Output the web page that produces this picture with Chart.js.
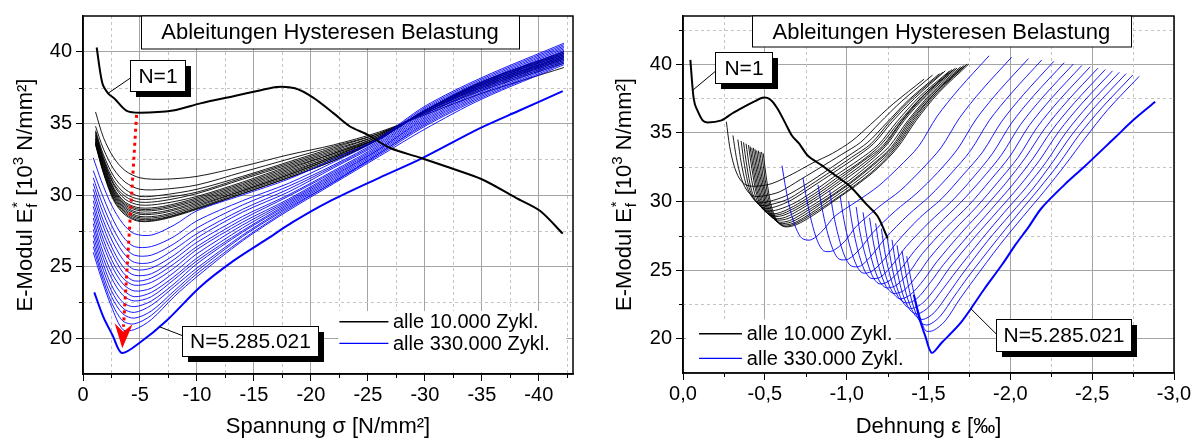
<!DOCTYPE html>
<html>
<head>
<meta charset="utf-8">
<script src="https://cdn.jsdelivr.net/npm/chart.js@4.4.1/dist/chart.umd.min.js"></script>
<style>
  body { margin: 0; background: #fff; }
  .panel { position: absolute; top: 0; }
</style>
</head>
<body>
<div class="panel" style="left:0"><canvas id="links" width="601" height="439"></canvas></div>
<div class="panel" style="left:601px"><canvas id="rechts" width="602" height="439"></canvas></div>
<script>
// Stuetzstellen (Spannung) der Zyklen
const sigmaBlack = [-1.1, -1.8, -2.7, -3.7, -5, -7, -10, -14, -18, -22, -26, -30, -35, -42.2];
const sigmaBlue = [-0.9, -1.6, -2.5, -3.5, -4.5, -6, -8, -10, -14, -18, -22, -26, -30, -35, -42.2];

// E-Modul, alle 10.000 Zyklen (schwarz)
const blackE = [
  [35.8, 34.0, 32.6, 31.7, 31.2, 31.1, 31.3, 32.0, 32.8, 33.5, 34.4, 35.6, 37.1, 38.9],
  [34.8, 33.2, 31.8, 30.9, 30.4, 30.4, 30.7, 31.6, 32.5, 33.4, 34.3, 35.7, 37.3, 39.2],
  [34.5, 32.8, 31.3, 30.4, 29.9, 30.0, 30.4, 31.3, 32.3, 33.3, 34.3, 35.7, 37.4, 39.3],
  [34.4, 32.6, 31.0, 30.1, 29.7, 29.8, 30.2, 31.2, 32.2, 33.2, 34.2, 35.8, 37.5, 39.4],
  [34.3, 32.5, 30.8, 29.9, 29.5, 29.6, 30.1, 31.1, 32.1, 33.1, 34.2, 35.8, 37.5, 39.5],
  [34.2, 32.4, 30.7, 29.7, 29.3, 29.4, 29.9, 30.9, 32.0, 33.0, 34.1, 35.8, 37.6, 39.5],
  [34.1, 32.3, 30.5, 29.5, 29.1, 29.2, 29.8, 30.8, 31.9, 32.9, 34.1, 35.8, 37.6, 39.6],
  [34.0, 32.2, 30.4, 29.4, 29.0, 29.1, 29.7, 30.7, 31.8, 32.9, 34.0, 35.8, 37.7, 39.6],
  [33.9, 32.1, 30.3, 29.3, 28.9, 29.0, 29.6, 30.6, 31.7, 32.8, 34.0, 35.9, 37.7, 39.7],
  [33.9, 32.0, 30.2, 29.2, 28.75, 28.85, 29.5, 30.5, 31.6, 32.7, 34.0, 35.9, 37.7, 39.7],
  [33.8, 31.9, 30.1, 29.1, 28.65, 28.75, 29.4, 30.4, 31.5, 32.7, 34.0, 35.9, 37.8, 39.8],
  [33.7, 31.8, 30.0, 29.0, 28.5, 28.6, 29.3, 30.3, 31.4, 32.6, 33.9, 35.9, 37.8, 39.8],
  [33.7, 31.7, 29.9, 28.9, 28.4, 28.5, 29.2, 30.3, 31.4, 32.6, 33.9, 35.9, 37.8, 39.9],
  [33.6, 31.6, 29.8, 28.8, 28.3, 28.4, 29.1, 30.2, 31.3, 32.5, 33.9, 35.9, 37.9, 39.9],
  [33.6, 31.6, 29.7, 28.7, 28.2, 28.35, 29.05, 30.1, 31.2, 32.4, 33.9, 35.9, 37.9, 40.0],
  [33.5, 31.5, 29.6, 28.6, 28.15, 28.3, 29.0, 30.1, 31.2, 32.4, 33.9, 35.9, 37.9, 40.0]
];
// Dehnung der schwarzen Zyklen
const blackEps = [
  [-0.265, -0.285, -0.312, -0.343, -0.384, -0.448, -0.544, -0.670, -0.793, -0.914, -1.032, -1.146, -1.284, -1.473],
  [-0.305, -0.326, -0.353, -0.385, -0.427, -0.493, -0.591, -0.719, -0.844, -0.967, -1.085, -1.200, -1.337, -1.525],
  [-0.335, -0.356, -0.384, -0.417, -0.460, -0.528, -0.628, -0.759, -0.886, -1.009, -1.129, -1.243, -1.380, -1.567],
  [-0.355, -0.376, -0.404, -0.437, -0.480, -0.548, -0.648, -0.779, -0.906, -1.029, -1.149, -1.263, -1.400, -1.587],
  [-0.370, -0.391, -0.419, -0.452, -0.495, -0.563, -0.663, -0.794, -0.921, -1.044, -1.164, -1.278, -1.415, -1.602],
  [-0.385, -0.407, -0.435, -0.468, -0.513, -0.582, -0.685, -0.818, -0.947, -1.072, -1.192, -1.307, -1.443, -1.629],
  [-0.400, -0.422, -0.450, -0.483, -0.528, -0.597, -0.700, -0.833, -0.962, -1.087, -1.207, -1.322, -1.458, -1.644],
  [-0.410, -0.432, -0.460, -0.493, -0.538, -0.607, -0.710, -0.843, -0.972, -1.097, -1.217, -1.332, -1.468, -1.654],
  [-0.420, -0.442, -0.470, -0.503, -0.548, -0.617, -0.720, -0.853, -0.982, -1.107, -1.227, -1.342, -1.478, -1.664],
  [-0.430, -0.452, -0.480, -0.513, -0.558, -0.627, -0.730, -0.863, -0.992, -1.117, -1.237, -1.352, -1.488, -1.674],
  [-0.440, -0.462, -0.491, -0.525, -0.571, -0.642, -0.747, -0.882, -1.013, -1.139, -1.260, -1.375, -1.511, -1.696],
  [-0.450, -0.472, -0.501, -0.535, -0.581, -0.652, -0.757, -0.892, -1.023, -1.149, -1.270, -1.385, -1.521, -1.706],
  [-0.460, -0.482, -0.511, -0.545, -0.591, -0.662, -0.767, -0.902, -1.033, -1.159, -1.280, -1.395, -1.531, -1.716],
  [-0.470, -0.492, -0.521, -0.555, -0.601, -0.672, -0.777, -0.912, -1.043, -1.169, -1.290, -1.405, -1.541, -1.726],
  [-0.480, -0.502, -0.531, -0.565, -0.611, -0.682, -0.787, -0.922, -1.053, -1.179, -1.300, -1.415, -1.551, -1.736],
  [-0.490, -0.512, -0.541, -0.575, -0.621, -0.692, -0.797, -0.932, -1.063, -1.189, -1.310, -1.425, -1.561, -1.746]
];

// E-Modul, alle 330.000 Zyklen (blau)
const blueE = [
  [32.6, 31.0, 29.3, 28.0, 27.3, 27.2, 27.9, 28.9, 30.0, 31.1, 32.5, 34.0, 36.2, 38.2, 40.6],
  [31.7, 30.2, 28.5, 27.1, 26.4, 26.4, 27.1, 28.2, 29.6, 30.8, 32.3, 33.9, 36.1, 38.1, 40.5],
  [31.2, 29.6, 27.9, 26.5, 25.8, 25.8, 26.6, 27.7, 29.3, 30.6, 32.1, 33.8, 36.0, 38.0, 40.4],
  [30.8, 29.1, 27.4, 26.0, 25.3, 25.3, 26.2, 27.3, 29.0, 30.4, 32.0, 33.7, 35.9, 37.9, 40.3],
  [30.4, 28.6, 26.9, 25.5, 24.8, 24.9, 25.8, 27.0, 28.8, 30.2, 31.9, 33.6, 35.8, 37.8, 40.2],
  [30.0, 28.2, 26.4, 25.0, 24.4, 24.5, 25.5, 26.7, 28.5, 30.0, 31.7, 33.5, 35.7, 37.7, 40.1],
  [29.6, 27.7, 26.0, 24.6, 24.0, 24.2, 25.2, 26.4, 28.3, 29.9, 31.6, 33.4, 35.6, 37.6, 40.0],
  [29.2, 27.3, 25.5, 24.2, 23.7, 23.9, 24.9, 26.2, 28.1, 29.7, 31.5, 33.3, 35.5, 37.5, 39.9],
  [28.8, 26.9, 25.1, 23.8, 23.3, 23.5, 24.6, 25.9, 27.9, 29.6, 31.4, 33.2, 35.4, 37.4, 39.8],
  [28.4, 26.4, 24.6, 23.4, 22.9, 23.2, 24.3, 25.6, 27.7, 29.5, 31.3, 33.2, 35.3, 37.3, 39.7],
  [28.0, 26.0, 24.2, 23.0, 22.6, 22.9, 24.1, 25.4, 27.5, 29.4, 31.2, 33.1, 35.2, 37.2, 39.6],
  [27.6, 25.6, 23.7, 22.5, 22.2, 22.6, 23.8, 25.2, 27.4, 29.3, 31.1, 33.0, 35.1, 37.1, 39.5],
  [27.2, 25.2, 23.3, 22.1, 21.8, 22.3, 23.6, 24.9, 27.2, 29.2, 31.0, 32.9, 35.0, 37.0, 39.4],
  [26.8, 24.8, 22.9, 21.7, 21.4, 21.9, 23.3, 24.7, 27.1, 29.1, 30.9, 32.9, 34.9, 36.9, 39.3],
  [26.4, 24.5, 22.5, 21.2, 21.0, 21.6, 23.1, 24.5, 26.9, 29.0, 30.9, 32.8, 34.8, 36.8, 39.2],
  [26.0, 24.2, 22.2, 20.6, 20.6, 21.3, 22.9, 24.3, 26.8, 28.9, 30.8, 32.7, 34.6, 36.7, 39.1]
];
// Dehnung der blauen Zyklen
const blueEps = [
  [-0.605, -0.627, -0.657, -0.692, -0.728, -0.783, -0.856, -0.926, -1.062, -1.193, -1.319, -1.439, -1.553, -1.687, -1.870],
  [-0.733, -0.755, -0.786, -0.822, -0.859, -0.915, -0.989, -1.060, -1.197, -1.329, -1.456, -1.576, -1.691, -1.825, -2.008],
  [-0.825, -0.848, -0.879, -0.916, -0.953, -1.011, -1.086, -1.158, -1.297, -1.429, -1.556, -1.677, -1.792, -1.927, -2.111],
  [-0.896, -0.919, -0.951, -0.988, -1.027, -1.085, -1.162, -1.235, -1.375, -1.509, -1.636, -1.757, -1.872, -2.008, -2.192],
  [-0.960, -0.984, -1.016, -1.054, -1.094, -1.153, -1.231, -1.305, -1.446, -1.581, -1.709, -1.831, -1.946, -2.082, -2.266],
  [-1.012, -1.036, -1.069, -1.108, -1.148, -1.209, -1.288, -1.363, -1.506, -1.641, -1.770, -1.892, -2.007, -2.143, -2.329],
  [-1.058, -1.082, -1.116, -1.156, -1.197, -1.259, -1.339, -1.415, -1.559, -1.695, -1.824, -1.947, -2.063, -2.199, -2.385],
  [-1.100, -1.125, -1.159, -1.200, -1.242, -1.305, -1.386, -1.463, -1.608, -1.745, -1.875, -1.998, -2.114, -2.251, -2.437],
  [-1.140, -1.165, -1.200, -1.241, -1.284, -1.348, -1.430, -1.508, -1.656, -1.794, -1.924, -2.047, -2.164, -2.301, -2.488],
  [-1.177, -1.203, -1.238, -1.280, -1.324, -1.389, -1.472, -1.551, -1.700, -1.839, -1.970, -2.093, -2.210, -2.348, -2.535],
  [-1.212, -1.238, -1.274, -1.317, -1.362, -1.428, -1.512, -1.592, -1.742, -1.882, -2.013, -2.137, -2.255, -2.393, -2.580],
  [-1.245, -1.271, -1.308, -1.352, -1.397, -1.465, -1.550, -1.631, -1.783, -1.923, -2.055, -2.179, -2.297, -2.435, -2.624],
  [-1.277, -1.304, -1.341, -1.386, -1.432, -1.501, -1.587, -1.669, -1.822, -1.963, -2.096, -2.221, -2.339, -2.477, -2.666],
  [-1.308, -1.335, -1.373, -1.418, -1.466, -1.535, -1.623, -1.706, -1.860, -2.003, -2.136, -2.261, -2.379, -2.518, -2.707],
  [-1.338, -1.366, -1.404, -1.450, -1.498, -1.569, -1.658, -1.742, -1.898, -2.041, -2.174, -2.300, -2.418, -2.558, -2.748],
  [-1.367, -1.395, -1.434, -1.481, -1.530, -1.602, -1.692, -1.777, -1.934, -2.078, -2.212, -2.338, -2.457, -2.597, -2.787]
];

// letzter Zyklus N=5.285.021
const sigmaLast = [-0.99, -1.8, -2.6, -3.4, -5.0, -7.3, -10.3, -13.2, -16.1, -18.4, -21.5, -26, -29.6, -34.8, -38.3, -42.1];
const eLast = [23.2, 21.45, 20.2, 18.97, 19.7, 21.2, 23.6, 25.4, 26.9, 28.1, 29.5, 31.2, 32.5, 34.65, 35.9, 37.25];
const epsLast = [-1.41, -1.445, -1.48, -1.52, -1.58, -1.70, -1.84, -1.95, -2.035, -2.11, -2.19, -2.33, -2.45, -2.64, -2.75, -2.885];

// erster Zyklus N=1
const sigmaN1 = [-1.2, -1.7, -2.2, -2.8, -3.8, -5.0, -7.9, -10.3, -13.2, -15.5, -17.0, -18.6, -20.2, -22.0, -23.4, -25.0, -26.9, -29.6, -32.2, -35.0, -38.0, -40.1, -42.1];
const eN1 = [40.3, 37.8, 37.1, 36.7, 35.9, 35.75, 35.9, 36.4, 36.9, 37.3, 37.55, 37.45, 36.8, 35.7, 34.8, 34.2, 33.3, 32.6, 31.9, 31.1, 29.8, 28.9, 27.3];
const epsN1 = [-0.045, -0.062, -0.072, -0.085, -0.12, -0.15, -0.235, -0.30, -0.375, -0.44, -0.485, -0.53, -0.575, -0.625, -0.665, -0.71, -0.765, -0.85, -0.93, -1.02, -1.12, -1.19, -1.25];

// Achsen
const sigmaTicks = [0, -5, -10, -15, -20, -25, -30, -35, -40];
const sigmaMinor = [-2.5, -7.5, -12.5, -17.5, -22.5, -27.5, -32.5, -37.5, -42.5];
const epsTicks = [0, -0.5, -1.0, -1.5, -2.0, -2.5, -3.0];
const epsMinor = [-0.25, -0.75, -1.25, -1.75, -2.25, -2.75];
const eTicks = [20, 25, 30, 35, 40];
const eMinorLeft = [22.5, 27.5, 32.5, 37.5];
const eMinorRight = [22.5, 27.5, 32.5, 37.5, 42.5];

const FONT = '"Liberation Sans", Arial, Helvetica, sans-serif';
const BLUE = '#0000ff';

const kurve = (xs, ys, color, width, order) => ({
  data: xs.map((x, i) => ({ x, y: ys[i] })),
  borderColor: color,
  borderWidth: width,
  pointRadius: 0,
  showLine: true,
  fill: false,
  tension: 0.3,
  order
});

function yTitel(ctx, bx, cy) {
  const big = '22px ' + FONT, small = '15px ' + FONT;
  ctx.save();
  ctx.translate(bx, cy);
  ctx.rotate(-Math.PI / 2);
  ctx.fillStyle = '#000';
  ctx.textBaseline = 'alphabetic';
  ctx.textAlign = 'left';
  ctx.font = big;
  const w1 = ctx.measureText('E-Modul E').width;
  const w3 = ctx.measureText(' [10').width;
  const w5 = ctx.measureText(' N/mm²]').width;
  ctx.font = small;
  const w2 = Math.max(ctx.measureText('f').width, ctx.measureText('*').width) + 1;
  const w4 = ctx.measureText('3').width;
  let x = -(w1 + w2 + w3 + w4 + w5) / 2;
  ctx.font = big; ctx.fillText('E-Modul E', x, 0); x += w1;
  ctx.font = small; ctx.fillText('*', x + 1, -10); ctx.fillText('f', x + 1, 5); x += w2;
  ctx.font = big; ctx.fillText(' [10', x, 0); x += w3;
  ctx.font = small; ctx.fillText('3', x, -9); x += w4;
  ctx.font = big; ctx.fillText(' N/mm²]', x, 0);
  ctx.restore();
}

function deko(cfg) {
  return {
    id: 'deko',
    beforeDatasetsDraw(chart) {
      const { ctx, chartArea: a, scales: { x, y } } = chart;
      const px = v => x.getPixelForValue(v), py = v => y.getPixelForValue(v);
      ctx.save();
      ctx.lineWidth = 1;
      ctx.strokeStyle = '#c4c4c4';
      ctx.setLineDash([3, 3]);
      ctx.beginPath();
      cfg.xMinor.forEach(v => { const p = Math.round(px(v)) + 0.5; ctx.moveTo(p, a.top); ctx.lineTo(p, a.bottom); });
      cfg.yMinor.forEach(v => { const p = Math.round(py(v)) + 0.5; ctx.moveTo(a.left, p); ctx.lineTo(a.right, p); });
      ctx.stroke();
      ctx.setLineDash([]);
      ctx.strokeStyle = '#000';
      ctx.beginPath();
      cfg.xMinor.forEach(v => { const p = Math.round(px(v)) + 0.5; ctx.moveTo(p, a.bottom); ctx.lineTo(p, a.bottom + 4); });
      cfg.yMinor.forEach(v => { const p = Math.round(py(v)) + 0.5; ctx.moveTo(a.left - 4, p); ctx.lineTo(a.left, p); });
      ctx.stroke();
      // Legendenhintergrund
      const b = cfg.legendBg;
      ctx.fillStyle = '#fff';
      ctx.fillRect(px(b[0]), py(b[1]), px(b[2]) - px(b[0]), py(b[3]) - py(b[1]));
      ctx.restore();
    },
    afterDatasetsDraw(chart) {
      const { ctx, chartArea: a, scales: { x, y } } = chart;
      const px = v => x.getPixelForValue(v), py = v => y.getPixelForValue(v);
      ctx.save();
      // Rahmen
      ctx.strokeStyle = '#000';
      ctx.lineWidth = 1.5;
      ctx.strokeRect(a.left, a.top, a.right - a.left, a.bottom - a.top);

      // Titelkasten
      const t = cfg.titel;
      const tx1 = px(t.x1), tx2 = px(t.x2), ty2 = py(t.y2);
      ctx.fillStyle = '#fff';
      ctx.fillRect(tx1, a.top, tx2 - tx1, ty2 - a.top);
      ctx.lineWidth = 1;
      ctx.strokeRect(Math.round(tx1) + 0.5, a.top, Math.round(tx2 - tx1), Math.round(ty2 - a.top));
      ctx.fillStyle = '#000';
      ctx.font = '22px ' + FONT;
      ctx.textAlign = 'center';
      ctx.textBaseline = 'middle';
      ctx.fillText(t.text, (tx1 + tx2) / 2, (a.top + ty2) / 2 + 1);

      // Beschriftungen N=...
      cfg.marken.forEach(m => {
        const x1 = Math.round(px(m.x1)), x2 = Math.round(px(m.x2));
        const y1 = Math.round(py(m.y1)), y2 = Math.round(py(m.y2));
        ctx.strokeStyle = '#000';
        ctx.lineWidth = 1;
        ctx.beginPath();
        ctx.moveTo(px(m.von[0]), py(m.von[1]));
        ctx.lineTo(x1, py(m.an));
        ctx.stroke();
        ctx.fillStyle = '#000';
        ctx.fillRect(x1 + 6, y1 + 6, x2 - x1, y2 - y1);
        ctx.fillStyle = '#fff';
        ctx.fillRect(x1, y1, x2 - x1, y2 - y1);
        ctx.strokeRect(x1 + 0.5, y1 + 0.5, x2 - x1, y2 - y1);
        ctx.fillStyle = '#000';
        ctx.font = '21px ' + FONT;
        ctx.textAlign = 'center';
        ctx.fillText(m.text, (x1 + x2) / 2 + 0.5, (y1 + y2) / 2 + 1.5);
      });

      // Legende
      const l = cfg.legende;
      ctx.font = '20px ' + FONT;
      ctx.textAlign = 'left';
      l.rows.forEach(r => {
        ctx.strokeStyle = r.color;
        ctx.lineWidth = 1.3;
        ctx.beginPath();
        ctx.moveTo(px(l.x1), py(r.y));
        ctx.lineTo(px(l.x2), py(r.y));
        ctx.stroke();
        ctx.fillStyle = '#000';
        ctx.fillText(r.text, px(l.xt), py(r.y) + 1);
      });

      // Pfeil
      if (cfg.pfeil) {
        const p = cfg.pfeil;
        const ax = px(p.von[0]), ay = py(p.von[1]);
        const bx = px(p.bis[0]), by = py(p.bis[1]);
        const sx = px(p.spitze[0]), sy = py(p.spitze[1]);
        ctx.strokeStyle = '#ff0000';
        ctx.lineWidth = 3;
        ctx.setLineDash([3, 4]);
        ctx.beginPath();
        ctx.moveTo(ax, ay);
        ctx.lineTo(bx, by);
        ctx.stroke();
        ctx.setLineDash([]);
        const len = Math.hypot(sx - bx, sy - by);
        const dx = (sx - bx) / len, dy = (sy - by) / len;
        ctx.fillStyle = '#ff0000';
        ctx.beginPath();
        ctx.moveTo(sx, sy);
        ctx.lineTo(bx - dy * 9 - dx * 3, by + dx * 9 - dy * 3);
        ctx.lineTo(bx + dx * 5, by + dy * 5);
        ctx.lineTo(bx + dy * 9 - dx * 3, by - dx * 9 - dy * 3);
        ctx.closePath();
        ctx.fill();
      }
      ctx.restore();
    },
    afterDraw(chart) {
      const a = chart.chartArea;
      yTitel(chart.ctx, cfg.titelX, (a.top + a.bottom) / 2);
    }
  };
}

function diagramm(id, c) {
  return new Chart(document.getElementById(id), {
    type: 'scatter',
    data: { datasets: c.datasets },
    options: {
      responsive: false,
      animation: false,
      devicePixelRatio: 1,
      events: [],
      layout: { padding: c.padding },
      plugins: { legend: { display: false }, tooltip: { enabled: false } },
      scales: {
        x: {
          type: 'linear',
          min: c.xMin, max: 0, reverse: true,
          afterBuildTicks: s => { s.ticks = c.xTicks.map(v => ({ value: v })); },
          afterFit: s => { s.height = c.xHeight; },
          ticks: { callback: c.xFmt, color: '#000', font: { family: FONT, size: 20 }, padding: 2, maxRotation: 0, autoSkip: false },
          grid: { color: '#a4a4a4', lineWidth: 1, tickColor: '#000', tickLength: 7 },
          border: { color: '#000', width: 1.5 },
          title: { display: true, text: c.xTitle, color: '#000', font: { family: FONT, size: 22, lineHeight: 1.1 }, padding: 0 }
        },
        y: {
          type: 'linear',
          min: 17.5, max: c.yMax,
          afterBuildTicks: s => { s.ticks = eTicks.map(v => ({ value: v })); },
          afterFit: s => { s.width = c.yWidth; },
          ticks: { color: '#000', font: { family: FONT, size: 20 }, padding: 4 },
          grid: { color: '#a4a4a4', lineWidth: 1, tickColor: '#000', tickLength: 7 },
          border: { color: '#000', width: 1.5 }
        }
      }
    },
    plugins: [deko(c.deko)]
  });
}

const titelText = 'Ableitungen Hysteresen Belastung';

diagramm('links', {
  datasets: [
    ...blackE.map(e => kurve(sigmaBlack, e, '#000', 0.9, 3)),
    ...blueE.map(e => kurve(sigmaBlue, e, BLUE, 0.9, 2)),
    kurve(sigmaLast, eLast, BLUE, 2, 1),
    kurve(sigmaN1, eN1, '#000', 2, 0)
  ],
  padding: { top: 11, right: 28, bottom: 0, left: 0 },
  xMin: -43, yMax: 42.5,
  xTicks: sigmaTicks,
  xFmt: v => (v === 0 ? '0' : String(v)),
  xHeight: 65, yWidth: 83,
  xTitle: 'Spannung σ [N/mm²]',
  deko: {
    xMinor: sigmaMinor, yMinor: eMinorLeft,
    legendBg: [-22.4, 21.9, -42.4, 17.6],
    titel: { x1: -5.1, x2: -38.25, y2: 40.23, text: titelText },
    marken: [
      { x1: -4.12, x2: -8.95, y1: 39.4, y2: 37.27, text: 'N=1', von: [-2.2, 37.1], an: 38.15 },
      { x1: -8.66, x2: -20.6, y1: 20.87, y2: 18.74, text: 'N=5.285.021', von: [-6.7, 20.8], an: 20.19 }
    ],
    legende: {
      x1: -22.5, x2: -26.8, xt: -27.2,
      rows: [
        { y: 21.15, color: '#000', text: 'alle 10.000 Zykl.' },
        { y: 19.64, color: BLUE, text: 'alle 330.000 Zykl.' }
      ]
    },
    pfeil: { von: [-4.7, 35.6], bis: [-3.55, 20.8], spitze: [-3.45, 19.3] },
    titelX: 32
  }
});

diagramm('rechts', {
  datasets: [
    ...blackE.map((e, k) => kurve(blackEps[k], e, '#000', 0.9, 3)),
    ...blueE.map((e, k) => kurve(blueEps[k], e, BLUE, 0.9, 2)),
    kurve(epsLast, eLast, BLUE, 2, 1),
    kurve(epsN1, eN1, '#000', 2, 0)
  ],
  padding: { top: 12, right: 29, bottom: 0, left: 0 },
  xMin: -3.0, yMax: 43.5,
  xTicks: epsTicks,
  xFmt: v => (v === 0 ? '0,0' : v.toFixed(1).replace('.', ',')),
  xHeight: 66, yWidth: 82,
  xTitle: 'Dehnung ε [‰]',
  deko: {
    xMinor: epsMinor, yMinor: eMinorRight,
    legendBg: [-0.02, 21.4, -1.3, 17.55],
    titel: { x1: -0.42, x2: -2.737, y2: 41.25, text: titelText },
    marken: [
      { x1: -0.195, x2: -0.544, y1: 40.89, y2: 38.59, text: 'N=1', von: [-0.06, 38.1], an: 39.45 },
      { x1: -1.91, x2: -2.737, y1: 21.46, y2: 19.13, text: 'N=5.285.021', von: [-1.757, 22.2], an: 20.36 }
    ],
    legende: {
      x1: -0.098, x2: -0.36, xt: -0.39,
      rows: [
        { y: 20.36, color: '#000', text: 'alle 10.000 Zykl.' },
        { y: 18.56, color: BLUE, text: 'alle 330.000 Zykl.' }
      ]
    },
    pfeil: null,
    titelX: 30
  }
});
</script>
</body>
</html>
